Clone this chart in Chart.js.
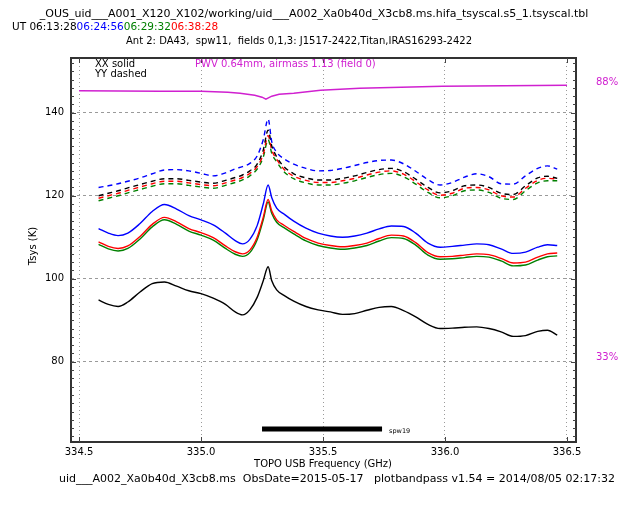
<!DOCTYPE html>
<html>
<head>
<meta charset="utf-8">
<script src="https://cdn.jsdelivr.net/npm/chart.js@4/dist/chart.umd.min.js"></script>
<style>
  html, body { margin: 0; padding: 0; background: #fff; }
  canvas { display: block; }
</style>
</head>
<body>
<canvas id="tsys" width="630" height="513"></canvas>
<script>
// Tsys spectra, one curve per scan time, XX solid / YY dashed
const freqGHz = [334.58, 334.62, 334.66, 334.70, 334.75, 334.80, 334.85, 334.90, 334.95, 335.00,
                 335.05, 335.10, 335.14, 335.17, 335.20, 335.23, 335.255, 335.275, 335.29, 335.31,
                 335.34, 335.38, 335.43, 335.48, 335.53, 335.58, 335.63, 335.68, 335.73, 335.78,
                 335.83, 335.88, 335.93, 335.98, 336.03, 336.08, 336.13, 336.18, 336.23, 336.28,
                 336.33, 336.38, 336.42, 336.46];

const xxBlue  = [112.1, 111.0, 110.4, 111.0, 113.3, 116.2, 117.9, 116.8, 115.2, 114.2,
                 113.0, 111.0, 109.2, 108.4, 109.5, 112.8, 118.0, 122.6, 119.5, 117.0,
                 115.6, 113.9, 112.2, 111.0, 110.3, 110.0, 110.3, 111.0, 112.0, 112.7,
                 112.6, 111.0, 108.6, 107.6, 107.8, 108.1, 108.4, 108.2, 107.2, 106.1,
                 106.4, 107.6, 108.2, 108.0];
const xxRed   = [108.9, 107.8, 107.3, 107.9, 110.2, 113.1, 114.8, 113.7, 112.1, 111.1,
                 109.9, 107.9, 106.5, 106.0, 106.9, 110.0, 114.8, 119.1, 116.3, 114.2,
                 112.9, 111.4, 109.7, 108.6, 108.0, 107.7, 108.0, 108.6, 109.7, 110.5,
                 110.3, 108.7, 106.3, 105.3, 105.4, 105.7, 106.0, 105.8, 104.9, 103.8,
                 104.0, 105.2, 106.0, 106.2];
const xxGreen = [108.3, 107.2, 106.7, 107.3, 109.6, 112.5, 114.2, 113.1, 111.5, 110.5,
                 109.3, 107.3, 105.9, 105.4, 106.3, 109.4, 114.2, 118.5, 115.7, 113.6,
                 112.3, 110.8, 109.1, 108.0, 107.4, 107.1, 107.4, 108.0, 109.1, 109.9,
                 109.7, 108.1, 105.7, 104.7, 104.8, 105.1, 105.4, 105.2, 104.3, 103.1,
                 103.3, 104.5, 105.3, 105.5];
const xxBlack = [94.9, 93.8, 93.3, 94.4, 96.8, 98.8, 99.2, 98.2, 97.1, 96.4,
                 95.3, 93.8, 92.0, 91.3, 92.5, 95.5, 99.5, 102.9, 99.5, 97.3,
                 96.0, 94.6, 93.3, 92.5, 92.0, 91.4, 91.6, 92.4, 93.1, 93.3,
                 92.3, 90.8, 89.0, 88.0, 88.1, 88.3, 88.4, 88.0, 87.2, 86.1,
                 86.3, 87.3, 87.6, 86.4];

const yyBlue  = [122.0, 122.4, 122.9, 123.5, 124.3, 125.3, 126.2, 126.3, 126.0, 125.4,
                 124.8, 125.5, 126.5, 127.0, 127.8, 129.6, 133.5, 138.5, 133.0, 130.5,
                 128.9, 127.6, 126.6, 126.0, 126.1, 126.6, 127.3, 128.0, 128.5, 128.6,
                 127.7, 125.9, 123.9, 122.6, 123.2, 124.5, 125.3, 124.6, 122.9, 122.8,
                 124.8, 126.6, 127.2, 126.4];
const yyBlack = [120.0, 120.6, 121.2, 121.9, 122.7, 123.5, 124.1, 124.1, 123.7, 123.3,
                 123.0, 123.7, 124.4, 125.0, 126.0, 127.6, 131.0, 135.8, 132.0, 129.4,
                 127.0, 125.3, 124.3, 123.8, 123.8, 124.2, 124.8, 125.6, 126.3, 126.6,
                 125.8, 124.0, 122.0, 120.7, 121.2, 122.4, 122.6, 122.0, 120.6, 120.3,
                 122.4, 124.3, 124.7, 124.2];
const yyRed   = [119.4, 120.0, 120.6, 121.3, 122.1, 122.9, 123.5, 123.5, 123.1, 122.7,
                 122.4, 123.1, 123.8, 124.4, 125.4, 127.0, 130.0, 134.5, 131.0, 128.8,
                 126.4, 124.7, 123.7, 123.2, 123.2, 123.6, 124.2, 125.0, 125.7, 126.0,
                 125.2, 123.4, 121.4, 120.1, 120.6, 121.8, 122.0, 121.4, 120.0, 119.7,
                 121.8, 123.7, 124.2, 124.0];
const yyGreen = [118.8, 119.4, 120.0, 120.7, 121.5, 122.3, 122.9, 122.9, 122.5, 122.1,
                 121.8, 122.5, 123.2, 123.8, 124.8, 126.4, 129.3, 133.5, 130.2, 128.2,
                 125.8, 124.1, 123.1, 122.6, 122.6, 123.0, 123.6, 124.4, 125.1, 125.4,
                 124.6, 122.8, 120.8, 119.5, 120.0, 121.2, 121.4, 120.8, 119.4, 119.1,
                 121.2, 123.1, 123.6, 123.6];

// atmospheric transmission (percent, right-hand scale)
const atmFreqGHz = [334.50, 334.83, 335.00, 335.11, 335.16, 335.22, 335.25, 335.266, 335.29,
                    335.32, 335.38, 335.49, 335.65, 335.99, 336.50];
const atmPct     = [86.4, 86.3, 86.3, 86.1, 85.9, 85.5, 85.1, 84.7, 85.3,
                    85.7, 85.9, 86.5, 86.9, 87.3, 87.5];

// spw coverage bar
const spwFreqGHz = [335.25, 335.742];
const spwLevelK = 63.8;

const xTicks = [334.5, 335.0, 335.5, 336.0, 336.5];
const yTicks = [80, 100, 120, 140];
const pctTicks = [33, 88];

const MAGENTA = '#d020d0';
const FONT = '"DejaVu Sans", sans-serif';

function pts(xs, ys) {
    return xs.map((x, i) => ({ x: x, y: ys[i] }));
}

function series(label, values, color, dashed) {
    return {
        label: label,
        data: pts(freqGHz, values),
        borderColor: color,
        borderWidth: 1.4,
        borderDash: dashed ? [5, 4] : [],
        yAxisID: 'y'
    };
}

// header, axis titles, footer, frame and minor ticks
const decorations = {
    id: 'decorations',
    afterDraw(chart) {
        const ctx = chart.ctx;
        const a = chart.chartArea;
        const ys = chart.scales.y;
        const xs = chart.scales.x;
        ctx.save();

        // frame
        ctx.strokeStyle = '#333';
        ctx.lineWidth = 2;
        ctx.strokeRect(a.left, a.top, a.right - a.left, a.bottom - a.top);

        // major and minor tick marks, inside
        ctx.lineWidth = 1;
        ctx.strokeStyle = '#444';
        for (let v = 62; v <= 152; v += 2) {
            const y = Math.round(ys.getPixelForValue(v)) + 0.5;
            const len = yTicks.includes(v) ? 5 : 3;
            ctx.beginPath();
            ctx.moveTo(a.left, y); ctx.lineTo(a.left + len, y);
            ctx.moveTo(a.right, y); ctx.lineTo(a.right - len, y);
            ctx.stroke();
        }
        xTicks.forEach(v => {
            const x = Math.round(xs.getPixelForValue(v)) + 0.5;
            ctx.beginPath();
            ctx.moveTo(x, a.bottom); ctx.lineTo(x, a.bottom - 5);
            ctx.moveTo(x, a.top); ctx.lineTo(x, a.top + 5);
            ctx.stroke();
        });

        ctx.fillStyle = '#000';
        ctx.textBaseline = 'middle';

        // header lines
        ctx.font = '11px ' + FONT;
        ctx.textAlign = 'center';
        ctx.fillText('_OUS_uid___A001_X120_X102/working/uid___A002_Xa0b40d_X3cb8.ms.hifa_tsyscal.s5_1.tsyscal.tbl', 314, 14);
        ctx.font = '10px ' + FONT;
        ctx.fillText('Ant 2: DA43,  spw11,  fields 0,1,3: J1517-2422,Titan,IRAS16293-2422', 299, 41);

        ctx.textAlign = 'left';
        ctx.font = '10.5px ' + FONT;
        const parts = [['UT 06:13:28', '#000'], ['06:24:56', '#0000ff'], ['06:29:32', '#008000'], ['06:38:28', '#ff0000']];
        let x = 12;
        parts.forEach(p => {
            ctx.fillStyle = p[1];
            ctx.fillText(p[0], x, 27);
            x += ctx.measureText(p[0]).width;
        });

        // in-plot notes
        ctx.font = '10px ' + FONT;
        ctx.fillStyle = '#000';
        ctx.fillText('XX solid', 95, 64);
        ctx.fillText('YY dashed', 95, 74);
        ctx.fillStyle = MAGENTA;
        ctx.fillText('PWV 0.64mm, airmass 1.13 (field 0)', 195, 64);

        // spw label next to the bar
        ctx.fillStyle = '#000';
        ctx.font = '6.5px ' + FONT;
        ctx.fillText('spw19', xs.getPixelForValue(spwFreqGHz[1]) + 7, ys.getPixelForValue(spwLevelK) + 2);

        // axis titles and footer
        ctx.font = '10px ' + FONT;
        ctx.textAlign = 'center';
        ctx.fillText('TOPO USB Frequency (GHz)', (xs.getPixelForValue(334.5) + xs.getPixelForValue(336.5)) / 2, 464);
        ctx.font = '11px ' + FONT;
        ctx.fillText('uid___A002_Xa0b40d_X3cb8.ms  ObsDate=2015-05-17   plotbandpass v1.54 = 2014/08/05 02:17:32', 337, 479);

        ctx.font = '10px ' + FONT;
        ctx.translate(33, 246);
        ctx.rotate(-Math.PI / 2);
        ctx.fillText('Tsys (K)', 0, 0);
        ctx.restore();
    }
};

const ctx = document.getElementById('tsys').getContext('2d');
new Chart(ctx, {
    type: 'line',
    data: {
        datasets: [
            series('XX 06:24:56', xxBlue, '#0000ff', false),
            series('XX 06:38:28', xxRed, '#ff0000', false),
            series('XX 06:29:32', xxGreen, '#008000', false),
            series('XX 06:13:28', xxBlack, '#000000', false),
            series('YY 06:24:56', yyBlue, '#0000ff', true),
            series('YY 06:13:28', yyBlack, '#000000', true),
            series('YY 06:38:28', yyRed, '#ff0000', true),
            series('YY 06:29:32', yyGreen, '#008000', true),
            {
                label: 'transmission',
                data: pts(atmFreqGHz, atmPct),
                borderColor: MAGENTA,
                borderWidth: 1.5,
                cubicInterpolationMode: 'default',
                tension: 0,
                yAxisID: 'y2'
            },
            {
                label: 'spw',
                data: spwFreqGHz.map(f => ({ x: f, y: spwLevelK })),
                borderColor: '#000',
                borderWidth: 5,
                yAxisID: 'y'
            }
        ]
    },
    options: {
        responsive: false,
        animation: false,
        devicePixelRatio: 1,
        layout: { padding: { top: 58, left: 0, right: 0, bottom: 0 } },
        elements: {
            point: { radius: 0 },
            line: { cubicInterpolationMode: 'monotone', fill: false }
        },
        plugins: {
            legend: { display: false },
            tooltip: { enabled: false },
            title: { display: false }
        },
        scales: {
            x: {
                type: 'linear',
                min: 334.467,
                max: 336.537,
                afterBuildTicks: s => { s.ticks = xTicks.map(v => ({ value: v })); },
                afterFit: s => { s.height = 71; },
                ticks: {
                    callback: v => v.toFixed(1),
                    color: '#000',
                    font: { family: FONT, size: 10 },
                    padding: 4,
                    maxRotation: 0
                },
                grid: { color: '#9a9a9a', lineWidth: 1, drawTicks: false },
                border: { display: false, dash: [1, 3] }
            },
            y: {
                type: 'linear',
                min: 60.65,
                max: 153.2,
                afterBuildTicks: s => { s.ticks = yTicks.map(v => ({ value: v })); },
                afterFit: s => { s.width = 71; },
                ticks: {
                    color: '#000',
                    font: { family: FONT, size: 10 },
                    padding: 7
                },
                grid: { color: '#9a9a9a', lineWidth: 1, drawTicks: false },
                border: { display: false, dash: [3, 3] }
            },
            y2: {
                type: 'linear',
                position: 'right',
                min: 16.14,
                max: 92.94,
                afterBuildTicks: s => { s.ticks = pctTicks.map(v => ({ value: v })); },
                afterFit: s => { s.width = 54; },
                ticks: {
                    callback: v => v + '%',
                    color: MAGENTA,
                    font: { family: FONT, size: 10 },
                    padding: 20
                },
                grid: { display: false, drawTicks: false },
                border: { display: false }
            }
        }
    },
    plugins: [decorations]
});
</script>
</body>
</html>
